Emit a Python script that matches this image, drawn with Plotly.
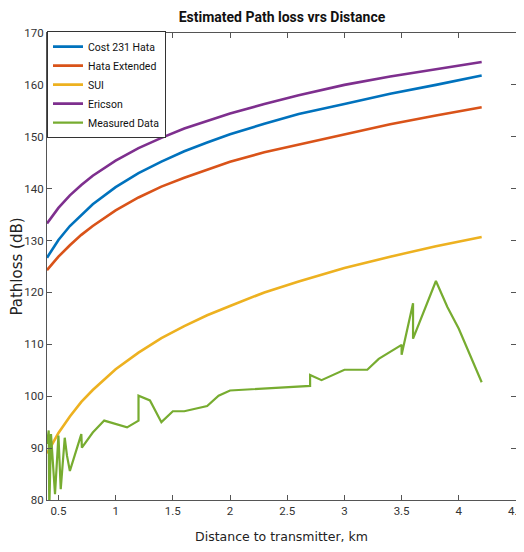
import plotly.graph_objects as go

distance_km = [0.4, 0.5, 0.6, 0.7, 0.8, 1.0, 1.2, 1.4, 1.6, 1.8, 2.0, 2.3, 2.6, 3.0, 3.4, 3.8, 4.2]
cost231_hata = [126.7, 130.1, 132.8, 135.0, 137.0, 140.3, 143.0, 145.2, 147.2, 148.9, 150.5, 152.5, 154.4, 156.3, 158.3, 160.0, 161.8]
hata_extended = [124.3, 126.9, 129.1, 131.1, 132.8, 135.8, 138.3, 140.4, 142.1, 143.7, 145.2, 147.0, 148.5, 150.5, 152.4, 154.1, 155.7]
sui = [89.0, 92.9, 96.1, 98.9, 101.2, 105.2, 108.4, 111.2, 113.5, 115.6, 117.4, 120.0, 122.1, 124.7, 126.9, 128.9, 130.7]
ericson = [133.3, 136.3, 138.7, 140.7, 142.5, 145.4, 147.8, 149.8, 151.6, 153.1, 154.5, 156.3, 158.0, 160.0, 161.6, 163.0, 164.4]

measured_km = [0.40, 0.415, 0.42, 0.435, 0.47, 0.50, 0.52, 0.555, 0.575, 0.60, 0.70, 0.705, 0.80, 0.90,
               1.10, 1.20, 1.20, 1.30, 1.40, 1.50, 1.60, 1.80, 1.90, 2.00, 2.70, 2.70, 2.80, 3.00,
               3.20, 3.30, 3.50, 3.50, 3.60, 3.60, 3.80, 3.90, 4.00, 4.20]
measured_db = [90.8, 93.4, 78.0, 92.7, 81.1, 92.4, 82.1, 92.0, 88.5, 85.6, 92.7, 90.1, 93.0, 95.3,
               94.0, 95.3, 100.1, 99.2, 95.0, 97.1, 97.1, 98.1, 100.1, 101.1, 102.0, 104.1, 103.1, 105.1,
               105.1, 107.2, 109.9, 108.0, 117.9, 111.1, 122.2, 117.2, 113.0, 102.7]

x_ticks = [0.5, 1, 1.5, 2, 2.5, 3, 3.5, 4, 4.5]
x_tick_labels = ["0.5", "1", "1.5", "2", "2.5", "3", "3.5", "4", "4.5"]
y_ticks = [80, 90, 100, 110, 120, 130, 140, 150, 160, 170]

TICKFONT = "Roboto, sans-serif"

fig = go.Figure()
series = [
    ("Cost 231 Hata", distance_km, cost231_hata, "#0072BD", 2.6),
    ("Hata Extended", distance_km, hata_extended, "#D95319", 2.6),
    ("SUI", distance_km, sui, "#EDB120", 2.6),
    ("Ericson", distance_km, ericson, "#7E2F8E", 2.6),
    ("Measured Data", measured_km, measured_db, "#77AC30", 2.2),
]
for name, xs, ys, col, w in series:
    fig.add_trace(go.Scatter(x=xs, y=ys, mode="lines", name=name,
                             line=dict(color=col, width=w, shape="linear")))

axis_common = dict(showline=True, mirror="ticks", linecolor="#555555", linewidth=1,
                   ticks="inside", ticklen=5, tickcolor="#555555", showgrid=False,
                   zeroline=False, automargin=False, ticklabeloverflow="allow",
                   tickfont=dict(family=TICKFONT, size=11.5, color="#333333"))

fig.update_layout(
    width=516, height=544,
    margin=dict(l=39, r=8, t=25, b=52),
    paper_bgcolor="white", plot_bgcolor="white",
    title=dict(text="<b>Estimated Path loss vrs Distance</b>", x=0.501, xref="paper", xanchor="center",
               y=0.9835, yanchor="middle", font=dict(family="Roboto, sans-serif", size=14, color="#111111")),
    legend=dict(x=0.0, y=1.004, xanchor="left", yanchor="top", bgcolor="white",
                bordercolor="#333333", borderwidth=1,
                font=dict(family="Roboto, sans-serif", size=10.5, color="#111111"), tracegroupgap=0),
    showlegend=True,
)
fig.update_xaxes(range=[0.4, 4.5], tickvals=x_ticks, ticktext=x_tick_labels,
                 title=dict(text="Distance to transmitter, km",
                            font=dict(family="DejaVu Sans, sans-serif", size=12.5, color="#222222")),
                 **axis_common)
fig.update_yaxes(range=[80, 170], tickvals=y_ticks,
                 title=dict(text="Pathloss (dB)",
                            font=dict(family="DejaVu Sans, sans-serif", size=15, color="#222222")),
                 **axis_common)

fig.write_html("out.html")
